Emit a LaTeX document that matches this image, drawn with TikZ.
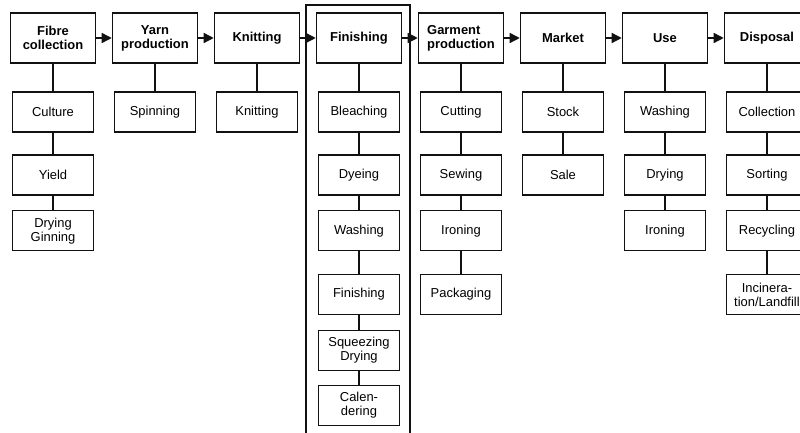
\documentclass[tikz,border=0pt]{standalone}
\usepackage{fontspec}
\setmainfont{Liberation Sans}
\usetikzlibrary{arrows.meta,positioning}
\definecolor{ink}{HTML}{111111}
\definecolor{paper}{HTML}{FFFFFF}
\tikzset{
  chain diagram/.style={
    x=1bp,
    y=-1bp,
    font=\fontsize{13}{14}\selectfont,
    >={Triangle[length=10bp,width=10bp]},
    line join=miter
  },
  stagebox/.style={
    draw=ink,
    line width=1.5pt,
    fill=paper,
    align=center,
    minimum width=85bp,
    minimum height=50bp,
    inner sep=1pt,
    font=\fontsize{13}{14}\selectfont\bfseries
  },
  stepbox/.style={
    draw=ink,
    line width=1.4pt,
    fill=paper,
    align=center,
    minimum width=81bp,
    minimum height=40bp,
    inner sep=1pt
  },
  flowarrow/.style={
    ->,
    draw=ink,
    line width=1.4pt
  },
  linkline/.style={
    draw=ink,
    line width=1.3pt
  },
  groupframe/.style={
    draw=ink,
    line width=1.5pt
  }
}

\begin{document}
\begin{tikzpicture}[chain diagram]
\useasboundingbox (0,0) rectangle (800,433);
\clip (0,0) rectangle (800,433);
\fill[paper] (0,0) rectangle (800,433);

\draw[groupframe] (306,5) rectangle (410,450);

% main stages
\node[stagebox] (fibre) at (53,38) {Fibre\\collection};
\node[stagebox, right=15.5bp of fibre] (yarn) {Yarn\\production};
\node[stagebox, right=15.5bp of yarn] (knit) {Knitting};
\node[stagebox, right=15.5bp of knit] (finish) {Finishing};
\node[stagebox, right=15.5bp of finish, align=left] (garment) {Garment\\production};
\node[stagebox, right=15.5bp of garment] (market) {Market};
\node[stagebox, right=15.5bp of market] (use) {Use};
\node[stagebox, right=15.5bp of use] (disposal) {Disposal};

% steps
\node[stepbox, below=27.5bp of fibre] (culture) {Culture};
\node[stepbox, below=21.5bp of culture] (yield) {Yield};
\node[stepbox, below=14.5bp of yield] (ginning) {Drying\\Ginning};

\node[stepbox, below=27.5bp of yarn] (spin) {Spinning};

\node[stepbox, below=27.5bp of knit] (knitstep) {Knitting};

\node[stepbox, below=27.5bp of finish] (bleach) {Bleaching};
\node[stepbox, below=21.5bp of bleach] (dye) {Dyeing};
\node[stepbox, below=14.5bp of dye] (finwash) {Washing};
\node[stepbox, below=22.5bp of finwash] (finstep) {Finishing};
\node[stepbox, below=14.5bp of finstep] (squeeze) {Squeezing\\Drying};
\node[stepbox, below=13.5bp of squeeze] (calender) {Calen-\\dering};

\node[stepbox, below=27.5bp of garment] (cut) {Cutting};
\node[stepbox, below=21.5bp of cut] (sew) {Sewing};
\node[stepbox, below=14.5bp of sew] (iron) {Ironing};
\node[stepbox, below=22.5bp of iron] (pack) {Packaging};

\node[stepbox, below=27.5bp of market] (stock) {Stock};
\node[stepbox, below=21.5bp of stock] (sale) {Sale};

\node[stepbox, below=27.5bp of use] (usewash) {Washing};
\node[stepbox, below=21.5bp of usewash] (usedry) {Drying};
\node[stepbox, below=14.5bp of usedry] (useiron) {Ironing};

\node[stepbox, below=27.5bp of disposal] (collect) {Collection};
\node[stepbox, below=21.5bp of collect] (sort) {Sorting};
\node[stepbox, below=14.5bp of sort] (recycle) {Recycling};
\node[stepbox, below=22.5bp of recycle] (landfill) {Incinera-\\tion/Landfill};

\draw[flowarrow] (fibre) -- (yarn);
\draw[flowarrow] (yarn) -- (knit);
\draw[flowarrow] (knit) -- (finish);
\draw[flowarrow] (finish) -- (garment);
\draw[flowarrow] (garment) -- (market);
\draw[flowarrow] (market) -- (use);
\draw[flowarrow] (use) -- (disposal);

\draw[linkline] (fibre) -- (culture) -- (yield) -- (ginning);
\draw[linkline] (yarn) -- (spin);
\draw[linkline] (knit) -- (knitstep);
\draw[linkline] (finish) -- (bleach) -- (dye) -- (finwash) -- (finstep) -- (squeeze) -- (calender);
\draw[linkline] (garment) -- (cut) -- (sew) -- (iron) -- (pack);
\draw[linkline] (market) -- (stock) -- (sale);
\draw[linkline] (use) -- (usewash) -- (usedry) -- (useiron);
\draw[linkline] (disposal) -- (collect) -- (sort) -- (recycle) -- (landfill);
\end{tikzpicture}
\end{document}
